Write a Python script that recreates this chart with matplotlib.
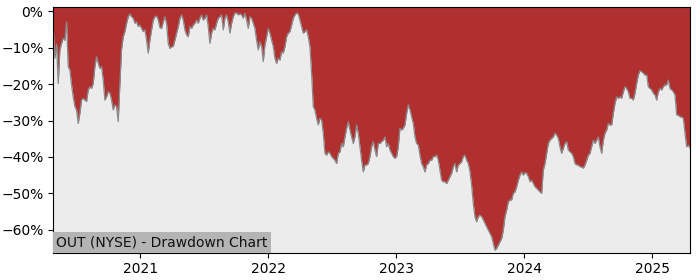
import matplotlib
matplotlib.use("Agg")
import matplotlib.pyplot as plt
import matplotlib.dates as mdates
from matplotlib.ticker import FuncFormatter
import pandas as pd
import numpy as np

start_date = "2020-04-27"
end_date = "2025-04-18"

drawdown_2020_21 = [
    -4.7, -12.9, -9.0, -19.8, -10.6, -8.8, -7.4, -8.0, -2.9, -15.2,
    -16.1, -20.2, -23.5, -26.2, -27.1, -30.8, -28.0, -24.4, -23.9, -24.4,
    -24.8, -21.6, -20.7, -21.2, -19.8, -15.2, -12.5, -14.3, -15.7, -15.2,
    -18.9, -24.4, -23.5, -22.1, -22.5, -24.4, -27.1, -25.7, -26.2, -30.3,
    -20.0, -10.5, -7.0, -5.6, -3.3, -1.5, -0.7, -1.5, -1.9, -3.3,
    -2.9, -4.2, -3.8, -4.7, -5.6, -5.1, -7.9, -11.5, -7.9, -5.1,
    -2.4, -1.5, -1.3, -2.4, -4.5, -4.7, -2.9, -1.5, -3.3, -8.8,
    -10.2, -9.7, -9.7, -7.9, -6.0, -4.2, -1.9, -1.0, -2.4, -5.1,
    -6.5, -7.0, -4.2, -4.7, -3.8, -3.3, -2.4, -3.3, -1.9,
]
drawdown_2021 = [
    -1.0, -2.4, -1.9, -1.0, -4.2, -8.8, -6.0, -4.7, -5.1, -3.3,
    -1.9, -1.5, -1.0, -5.1, -1.9, -1.0, -2.9, -6.0, -3.3, -1.5,
    -0.5, -0.4, -1.0, -0.7, -1.0, -1.9, -0.5, -2.4, -4.7, -1.5,
    -1.9, -3.3, -4.7, -7.9, -10.6,
]
drawdown_2022 = [
    -8.4, -9.7, -13.8, -9.3, -7.0, -4.7, -6.0, -7.9, -9.7, -12.9,
    -14.3, -12.9, -13.4, -11.1, -11.5, -9.7, -7.0, -6.0, -5.6, -3.8,
    -1.9, -1.0, -0.5, -0.7, -2.4, -4.2, -6.0, -5.6, -5.1, -7.0,
    -9.7, -17.0, -26.2, -27.1, -29.4, -31.2, -29.4, -29.9, -33.5, -39.0,
    -39.5, -38.6, -39.0, -39.9, -40.4, -40.9, -41.8, -39.0, -38.6, -36.3,
    -37.2, -34.5, -32.1, -30.3, -32.6, -34.5, -36.3, -34.5, -31.2, -33.5,
    -37.2, -40.9, -44.1,
]
drawdown_2023 = [
    -42.2, -42.2, -41.8, -39.9, -37.2, -35.8, -38.1, -39.9, -36.3, -36.3,
    -35.8, -35.4, -34.5, -37.2, -36.3, -38.1, -39.0, -39.9, -40.4, -39.9,
    -37.2, -32.1, -32.6, -32.1, -31.2, -28.0, -25.7, -27.1, -29.0, -30.8,
    -34.5, -36.3, -36.7, -39.5, -41.8, -42.7, -44.1, -42.2, -41.8, -40.9,
    -40.9, -39.9, -39.9, -39.5, -40.9, -43.6, -46.4, -46.8, -46.8, -47.3,
    -46.4, -45.4, -44.5, -42.7, -41.8, -44.1, -42.2, -41.8, -41.3, -39.9,
    -39.5, -40.9, -41.8,
]
drawdown_2024 = [
    -44.0, -47.8, -52.8, -56.5, -57.8, -56.4, -56.0, -56.4, -57.3, -58.2,
    -59.2, -60.1, -61.0, -61.9, -63.7, -65.6, -65.1, -64.2, -63.3, -62.4,
    -60.1, -56.4, -54.6, -52.3, -51.8, -51.8, -50.0, -49.6, -48.2, -46.4,
    -45.0, -44.1, -45.0, -44.3, -44.5, -45.4, -46.8, -46.4, -47.3, -48.2,
    -48.6, -49.1, -49.6, -50.0, -43.6, -41.8, -39.0, -36.3, -35.4, -34.9,
    -34.5, -33.5, -34.0, -34.9, -37.2, -39.0, -37.6, -36.3, -35.8, -38.1,
    -38.6, -39.0, -39.9, -41.8, -42.2, -42.2,
]
drawdown_2025 = [
    -42.7, -42.7, -43.1, -42.2, -40.9, -39.5, -39.0, -37.2, -35.4, -36.3,
    -35.4, -34.5, -37.2, -39.0, -35.4, -33.5, -32.6, -30.8, -31.2, -31.2,
    -28.0, -25.3, -23.5, -23.9, -23.5, -23.9, -22.1, -20.7, -21.2, -22.1,
    -23.9, -23.9, -24.4, -22.5, -19.8, -17.5, -16.3, -16.6, -17.0, -17.5,
    -17.5, -20.7, -21.2, -21.6, -22.5, -23.0, -24.4, -22.1, -21.2, -21.6,
    -20.7, -20.2, -20.2, -18.9, -21.2, -21.6, -22.1, -23.0, -28.5, -28.5,
    -29.0, -29.0, -29.4, -33.5, -37.2, -36.8, -37.6,
]

drawdown = (drawdown_2020_21 + drawdown_2021 + drawdown_2022 +
            drawdown_2023 + drawdown_2024 + drawdown_2025)
dates = pd.date_range(start_date, end_date, periods=len(drawdown))

title_text = "OUT (NYSE) - Drawdown Chart"

fig = plt.figure(figsize=(7, 2.8), dpi=100)
ax = fig.add_axes([0.076, 0.0975, 0.9097, 0.8765])
ax.set_facecolor("#ececec")

dd = np.array(drawdown)
ax.fill_between(dates, dd, 5, color="#b03030", linewidth=0)
ax.plot(dates, dd, color="#8a8a8a", linewidth=0.9)

ax.set_xlim(dates[0], dates[-1])
ax.set_ylim(min(drawdown) - 0.7, 1.1)
ax.set_yticks([0, -10, -20, -30, -40, -50, -60])
ax.yaxis.set_major_formatter(
    FuncFormatter(lambda v, p: f"{v:.0f}%".replace("-", "\u2212")))
ax.xaxis.set_major_locator(mdates.YearLocator())
ax.xaxis.set_major_formatter(mdates.DateFormatter("%Y"))
ax.tick_params(labelsize=10)

ax.text(0.005, 0.012, title_text, transform=ax.transAxes, fontsize=10,
        ha="left", va="bottom", color="#111111",
        bbox=dict(facecolor="#b4b4b4", edgecolor="none", pad=2.5))

fig.savefig("out.png", dpi=100)
